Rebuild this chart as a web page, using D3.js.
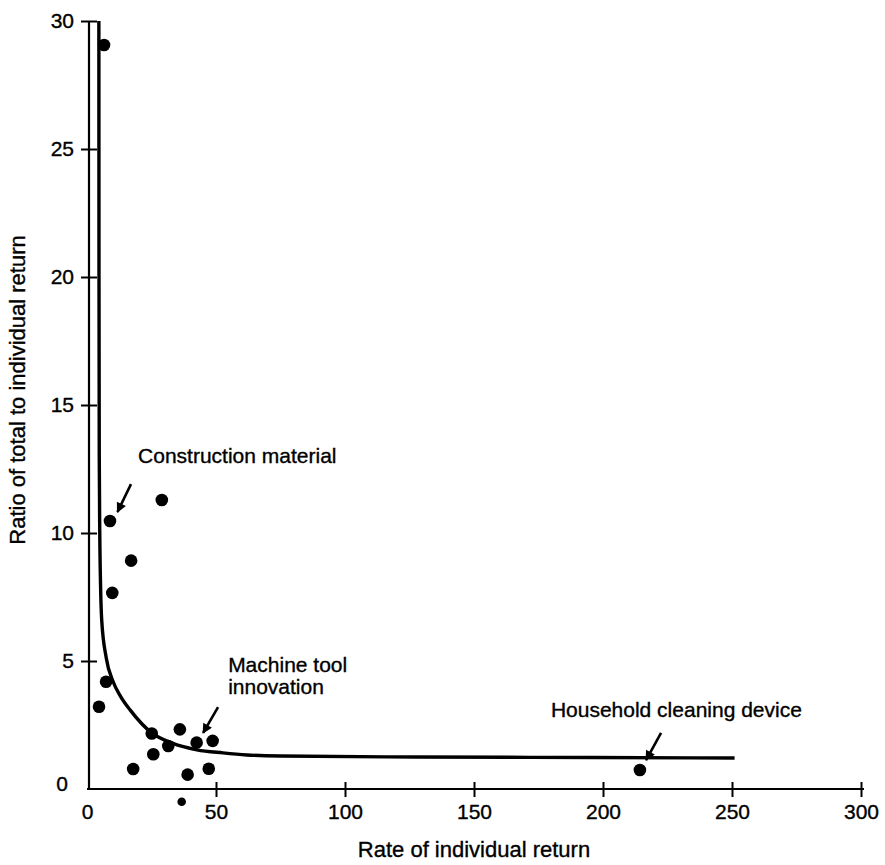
<!DOCTYPE html>
<html>
<head>
<meta charset="utf-8">
<script src="https://cdn.jsdelivr.net/npm/d3@7/dist/d3.min.js"></script>
<style>
  html, body { margin: 0; padding: 0; background: #fff; }
  svg { display: block; font-family: "Liberation Sans", Arial, sans-serif; }
</style>
</head>
<body>
<svg id="chart" width="885" height="865"></svg>
<script>
// ---- data ----
const pointX = [6.6, 8.9, 29.0, 17.1, 9.8, 7.4, 4.65, 25.1, 36.0, 31.5, 25.7, 42.5, 48.7, 17.9, 39.0, 47.2, 214.3];
const pointY = [29.06, 10.47, 11.29, 8.92, 7.66, 4.19, 3.21, 2.17, 2.33, 1.68, 1.36, 1.81, 1.88, 0.78, 0.56, 0.79, 0.74];
const smallPointX = [36.7];
const smallPointY = [-0.5];

const curveX = [4.6, 4.65, 4.75, 4.95, 5.25, 5.7, 7.5, 10.1, 13.0, 16.7, 25.1, 33.3, 42.6, 52.7, 62.0, 75.0, 127.0, 196.0, 251.0];
const curveY = [30.0, 20.0, 13.0, 10.0, 8.0, 6.6, 5.1, 4.2, 3.62, 3.09, 2.19, 1.78, 1.53, 1.41, 1.33, 1.29, 1.25, 1.23, 1.21];

const xTicks = [0, 50, 100, 150, 200, 250, 300];
const yTicks = [0, 5, 10, 15, 20, 25, 30];

const labelText = ["Construction material", "Machine tool", "innovation", "Household cleaning device"];
const labelX = [19.8, 54.7, 54.7, 179.8];
const labelY = [12.73, 4.57, 3.71, 2.81];

const arrowFromX = [17.05, 50.8, 222.5];
const arrowFromY = [11.91, 3.2, 2.19];
const arrowToX = [11.8, 45.0, 216.7];
const arrowToY = [10.82, 2.19, 1.13];

const xTitle = "Rate of individual return";
const yTitle = "Ratio of total to individual return";

// ---- drawing ----
const svg = d3.select("#chart");
const x = d3.scaleLinear().domain([0, 300]).range([87, 861]);
const y = d3.scaleLinear().domain([0, 30]).range([789, 21]);

// arrow marker
svg.append("defs").append("marker")
  .attr("id", "arrowhead")
  .attr("viewBox", "0 0 10 10")
  .attr("refX", 9).attr("refY", 5)
  .attr("markerWidth", 12).attr("markerHeight", 10)
  .attr("markerUnits", "userSpaceOnUse")
  .attr("orient", "auto")
  .append("path").attr("d", "M0,0 L10,5 L0,10 Z").attr("fill", "#000");

const textStroke = sel => sel.attr("fill", "#000").attr("stroke", "#000").attr("stroke-width", 0.35);

// x axis
const gx = svg.append("g")
  .attr("transform", `translate(0,${y(0)})`)
  .call(d3.axisBottom(x).tickValues(xTicks).tickSize(8).tickSizeOuter(0));
gx.select(".domain").attr("stroke", "#000").attr("stroke-width", 2.2)
  .attr("d", `M${x(0)},0H${x(300) + 3}`);
gx.selectAll(".tick line").attr("y1", -7).attr("y2", 8).attr("stroke-width", 2);
gx.selectAll(".tick").filter(d => d === 0).select("line").remove();
gx.selectAll(".tick text")
  .attr("y", 15).attr("dy", "0.71em")
  .attr("font-size", 21)
  .attr("font-family", "Liberation Sans, Arial, sans-serif")
  .call(textStroke);

// y axis
const gy = svg.append("g")
  .attr("transform", `translate(${x(0) + 2},0)`)
  .call(d3.axisLeft(y).tickValues(yTicks).tickSize(8).tickSizeOuter(0));
gy.select(".domain").attr("stroke", "#000").attr("stroke-width", 2.2)
  .attr("d", `M0,${y(30)}V${y(0)}`);
gy.selectAll(".tick line").attr("x1", -8).attr("x2", 8).attr("stroke-width", 2);
gy.selectAll(".tick").filter(d => d === 0).select("line").remove();
gy.selectAll(".tick text")
  .attr("x", -15).attr("dy", "0.32em")
  .attr("font-size", 21)
  .attr("font-family", "Liberation Sans, Arial, sans-serif")
  .call(textStroke);
gy.selectAll(".tick").filter(d => d === 0).select("text").attr("dy", "0.05em").attr("x", -21);

// fitted curve
const line = d3.line()
  .x((d, i) => x(curveX[i]))
  .y((d, i) => y(curveY[i]))
  .curve(d3.curveMonotoneX);
svg.append("path")
  .attr("d", line(curveX))
  .attr("fill", "none")
  .attr("stroke", "#000")
  .attr("stroke-width", 3.4)
  .attr("stroke-linejoin", "round");

// points
svg.append("g").selectAll("circle")
  .data(pointX)
  .join("circle")
  .attr("cx", (d, i) => x(pointX[i]))
  .attr("cy", (d, i) => y(pointY[i]))
  .attr("r", 6.3)
  .attr("fill", "#000");
svg.append("g").selectAll("circle")
  .data(smallPointX)
  .join("circle")
  .attr("cx", (d, i) => x(smallPointX[i]))
  .attr("cy", (d, i) => y(smallPointY[i]))
  .attr("r", 4.3)
  .attr("fill", "#000");

// arrows
svg.append("g").selectAll("line")
  .data(arrowFromX)
  .join("line")
  .attr("x1", (d, i) => x(arrowFromX[i]))
  .attr("y1", (d, i) => y(arrowFromY[i]))
  .attr("x2", (d, i) => x(arrowToX[i]))
  .attr("y2", (d, i) => y(arrowToY[i]))
  .attr("stroke", "#000")
  .attr("stroke-width", 2.6)
  .attr("marker-end", "url(#arrowhead)");

// annotation labels
svg.append("g").selectAll("text")
  .data(labelText)
  .join("text")
  .attr("x", (d, i) => x(labelX[i]))
  .attr("y", (d, i) => y(labelY[i]))
  .attr("font-size", 21)
  .call(textStroke)
  .text(d => d);

// axis titles
svg.append("text")
  .attr("x", x(150))
  .attr("y", 857)
  .attr("text-anchor", "middle")
  .attr("font-size", 22)
  .call(textStroke)
  .text(xTitle);

svg.append("text")
  .attr("transform", "translate(25,390) rotate(-90)")
  .attr("text-anchor", "middle")
  .attr("font-size", 22)
  .call(textStroke)
  .text(yTitle);
</script>
</body>
</html>
